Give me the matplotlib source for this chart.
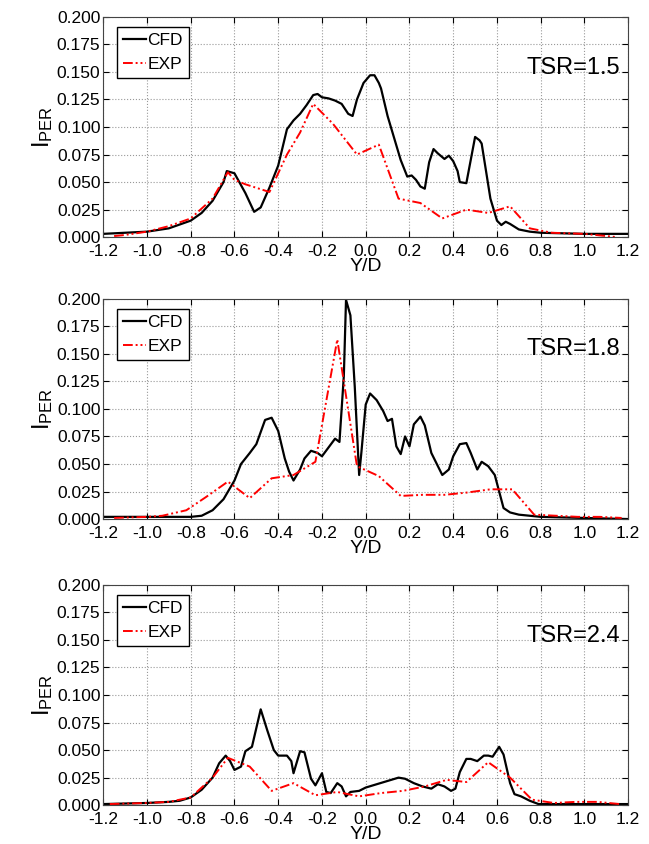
import numpy as np
import matplotlib
matplotlib.use("Agg")
import matplotlib.pyplot as plt

plt.rcParams['font.family'] = ['Liberation Sans', 'DejaVu Sans']
plt.rcParams['mathtext.default'] = 'regular'

# ---- data ----
tsr_labels = ['TSR=1.5', 'TSR=1.8', 'TSR=2.4']

cfd15_x = [-1.2, -1.0, -0.9, -0.8, -0.75, -0.7, -0.65, -0.635, -0.6, -0.55, -0.51, -0.48, -0.44, -0.4,
           -0.36, -0.33, -0.3, -0.27, -0.24, -0.22, -0.2, -0.17, -0.14, -0.11, -0.08, -0.06, -0.04,
           -0.01, 0.02, 0.04, 0.06, 0.07, 0.1, 0.13, 0.16, 0.19, 0.21, 0.23, 0.25, 0.27, 0.29, 0.31,
           0.33, 0.36, 0.38, 0.40, 0.42, 0.43, 0.46, 0.48, 0.5, 0.52, 0.53, 0.55, 0.57, 0.6, 0.62,
           0.64, 0.66, 0.7, 0.75, 0.8, 1.0, 1.2]
cfd15_y = [0.003, 0.005, 0.008, 0.015, 0.022, 0.033, 0.05, 0.060, 0.058, 0.04, 0.023, 0.027, 0.045,
           0.065, 0.098, 0.106, 0.112, 0.12, 0.129, 0.130, 0.127, 0.126, 0.124, 0.121, 0.112, 0.110,
           0.125, 0.140, 0.147, 0.147, 0.140, 0.135, 0.110, 0.090, 0.070, 0.055, 0.056, 0.052, 0.046,
           0.044, 0.068, 0.080, 0.076, 0.071, 0.074, 0.069, 0.060, 0.050, 0.049, 0.070, 0.091, 0.088,
           0.085, 0.060, 0.035, 0.015, 0.011, 0.014, 0.012, 0.007, 0.005, 0.004, 0.003, 0.003]
exp15_x = [-1.15, -1.1, -1.0, -0.9, -0.8, -0.7, -0.63, -0.6, -0.55, -0.44, -0.36, -0.3, -0.24, -0.15,
           -0.04, 0.06, 0.15, 0.25, 0.35, 0.46, 0.56, 0.66, 0.75, 0.85, 1.0, 1.1, 1.15]
exp15_y = [0.001, 0.002, 0.005, 0.010, 0.017, 0.035, 0.059, 0.052, 0.048, 0.041, 0.075, 0.095, 0.121,
           0.103, 0.075, 0.084, 0.035, 0.031, 0.017, 0.025, 0.022, 0.028, 0.008, 0.004, 0.003, 0.001,
           0.000]

cfd18_x = [-1.2, -0.8, -0.75, -0.7, -0.65, -0.6, -0.57, -0.53, -0.5, -0.46, -0.43, -0.4, -0.37, -0.35,
           -0.33, -0.3, -0.28, -0.25, -0.22, -0.2, -0.17, -0.14, -0.12, -0.1, -0.09, -0.07, -0.05,
           -0.03, -0.02, 0.0, 0.02, 0.05, 0.08, 0.1, 0.12, 0.14, 0.16, 0.18, 0.2, 0.22, 0.25, 0.27,
           0.3, 0.35, 0.38, 0.4, 0.43, 0.46, 0.48, 0.51, 0.53, 0.56, 0.59, 0.61, 0.63, 0.66, 0.7,
           0.75, 0.8, 1.2]
cfd18_y = [0.002, 0.002, 0.003, 0.008, 0.018, 0.035, 0.050, 0.060, 0.068, 0.090, 0.092, 0.080, 0.055,
           0.043, 0.035, 0.045, 0.055, 0.062, 0.060, 0.057, 0.065, 0.073, 0.070, 0.130, 0.199, 0.185,
           0.120, 0.040, 0.060, 0.104, 0.114, 0.108, 0.098, 0.089, 0.091, 0.066, 0.059, 0.075, 0.066,
           0.086, 0.093, 0.085, 0.060, 0.040, 0.045, 0.057, 0.068, 0.069, 0.060, 0.045, 0.052, 0.048,
           0.040, 0.025, 0.010, 0.006, 0.004, 0.003, 0.002, 0.000]
exp18_x = [-1.15, -1.0, -0.93, -0.82, -0.73, -0.63, -0.53, -0.43, -0.33, -0.23, -0.13, -0.04, 0.06,
           0.16, 0.26, 0.36, 0.46, 0.57, 0.67, 0.77, 0.87, 0.97, 1.07, 1.17]
exp18_y = [0.001, 0.002, 0.003, 0.008, 0.020, 0.034, 0.019, 0.037, 0.040, 0.052, 0.163, 0.048, 0.039,
           0.021, 0.022, 0.022, 0.024, 0.027, 0.027, 0.004, 0.003, 0.002, 0.002, 0.001]

cfd24_x = [-1.2, -1.0, -0.9, -0.85, -0.8, -0.75, -0.7, -0.67, -0.64, -0.62, -0.6, -0.57, -0.55, -0.52,
           -0.48, -0.45, -0.42, -0.4, -0.36, -0.34, -0.33, -0.3, -0.28, -0.25, -0.23, -0.2, -0.18,
           -0.16, -0.13, -0.11, -0.09, -0.07, -0.03, 0.0, 0.05, 0.1, 0.15, 0.18, 0.22, 0.26, 0.3,
           0.33, 0.36, 0.39, 0.41, 0.43, 0.46, 0.48, 0.51, 0.54, 0.56, 0.58, 0.61, 0.63, 0.66, 0.68,
           0.71, 0.75, 0.79, 0.85, 1.2]
cfd24_y = [0.001, 0.002, 0.003, 0.004, 0.007, 0.014, 0.025, 0.038, 0.045, 0.040, 0.032, 0.035, 0.049,
           0.053, 0.087, 0.068, 0.050, 0.045, 0.045, 0.040, 0.029, 0.049, 0.048, 0.024, 0.018, 0.029,
           0.012, 0.011, 0.020, 0.017, 0.008, 0.012, 0.013, 0.016, 0.019, 0.022, 0.025, 0.024, 0.020,
           0.017, 0.015, 0.019, 0.017, 0.013, 0.015, 0.030, 0.042, 0.042, 0.040, 0.045, 0.045, 0.044,
           0.053, 0.046, 0.020, 0.010, 0.008, 0.004, 0.001, 0.001, 0.001]
exp24_x = [-1.17, -1.0, -0.9, -0.8, -0.7, -0.63, -0.53, -0.43, -0.33, -0.23, -0.13, -0.03, 0.07, 0.17,
           0.27, 0.37, 0.46, 0.56, 0.66, 0.76, 0.86, 0.96, 1.06, 1.16]
exp24_y = [0.001, 0.002, 0.003, 0.007, 0.025, 0.043, 0.035, 0.013, 0.020, 0.009, 0.012, 0.008, 0.011,
           0.013, 0.017, 0.023, 0.021, 0.039, 0.025, 0.005, 0.002, 0.003, 0.003, 0.001]

panels = [(cfd15_x, cfd15_y, exp15_x, exp15_y),
          (cfd18_x, cfd18_y, exp18_x, exp18_y),
          (cfd24_x, cfd24_y, exp24_x, exp24_y)]

fig = plt.figure(figsize=(6.49, 8.44), dpi=100)
bottoms = [0.719, 0.385, 0.046]
for i, (cx, cy, ex, ey) in enumerate(panels):
    ax = fig.add_axes([0.159, bottoms[i], 0.809, 0.261])
    ax.plot(cx, cy, color='black', lw=1.6, label='CFD')
    ax.plot(ex, ey, color='red', lw=1.4, ls=(0, (5, 1.5, 1, 1.5, 1, 1.5)), label='EXP')
    ax.set_xlim(-1.2, 1.2)
    ax.set_ylim(0, 0.2)
    ax.set_xticks(np.arange(-1.2, 1.21, 0.2))
    ax.set_xticklabels(['%.1f' % v if abs(v) > 1e-9 else '0.0' for v in np.arange(-1.2, 1.21, 0.2)])
    ax.set_yticks(np.arange(0, 0.201, 0.025))
    ax.set_yticklabels(['%.3f' % v for v in np.arange(0, 0.201, 0.025)])
    ax.grid(True, ls=':', color='#999999', lw=0.8)
    ax.tick_params(direction='in', top=True, right=True, labelsize=12.5, length=4)
    ax.tick_params(axis='x', pad=5)
    ax.tick_params(axis='y', pad=2)
    for s in ax.spines.values():
        s.set_color('#444444')
    ax.set_xlabel('Y/D', fontsize=14, labelpad=-1)
    ax.set_ylabel('I$_{PER}$', fontsize=17, labelpad=1)
    leg = ax.legend(loc='upper left', fontsize=12.5, handlelength=1.3, handletextpad=0.1,
                    borderpad=0.35, labelspacing=0.5, fancybox=False, framealpha=1,
                    bbox_to_anchor=(0.01, 0.995))
    leg.get_frame().set_edgecolor('black')
    leg.get_frame().set_linewidth(1.0)
    ax.text(0.985, 0.77, tsr_labels[i], transform=ax.transAxes, ha='right', va='center',
            fontsize=17)

fig.savefig('out.png', dpi=100)
